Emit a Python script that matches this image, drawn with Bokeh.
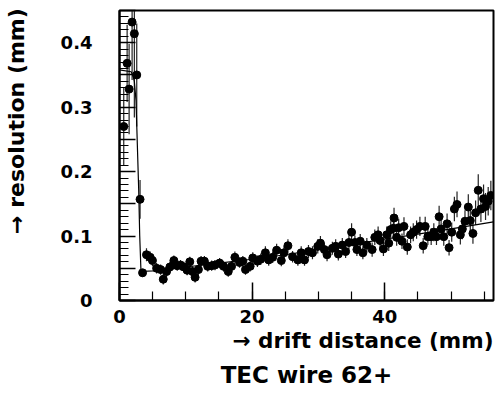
import numpy as np
from bokeh.plotting import figure
from bokeh.models import ColumnDataSource, Title, FixedTicker, SingleIntervalTicker
from bokeh.embed import file_html
from bokeh.resources import INLINE

# ---- data ----
drift = [0.64, 1.15, 1.45, 1.9, 2.24, 2.6, 3.1,
         3.48, 4.07, 4.63, 4.97, 5.6, 6.2, 6.6, 7.1, 7.6, 8.2, 8.7, 9.2, 9.7, 10.2,
         10.6, 11.0, 11.4, 11.9, 12.3, 12.8, 13.3, 13.9, 14.4, 15.1, 15.7, 16.4, 16.9,
         17.4, 18.1, 18.6, 19.0, 19.7, 20.1, 20.8, 21.3, 22.0, 22.5, 23.1, 23.7, 24.4,
         24.8, 25.4, 26.1, 26.9, 27.4, 27.9, 28.5, 29.1, 29.9, 30.3, 30.9, 31.3, 32.1,
         32.6, 33.0, 33.6, 34.1, 34.6, 35.0, 35.5, 35.8, 36.3, 36.7, 37.3, 38.1, 38.5,
         39.0, 39.3, 39.8, 40.3, 40.6, 40.9, 41.3, 41.4, 41.8, 42.1, 42.6, 42.9, 43.4,
         43.9, 44.3, 44.8, 45.3, 45.8, 46.1, 46.5, 47.0, 47.4, 47.8, 48.2, 48.5, 48.9,
         49.4, 49.7, 50.1, 50.5, 50.9, 51.4, 51.7, 52.1, 52.6, 52.9, 53.3, 53.7, 54.1,
         54.5, 54.9, 55.2, 55.6, 56.0]
resolution = [0.270, 0.368, 0.328, 0.432, 0.414, 0.350, 0.157,
              0.043, 0.071, 0.067, 0.062, 0.050, 0.048, 0.033, 0.045, 0.052, 0.062, 0.054,
              0.055, 0.052, 0.047, 0.060, 0.045, 0.036, 0.048, 0.061, 0.061, 0.053, 0.054,
              0.055, 0.058, 0.053, 0.045, 0.053, 0.067, 0.059, 0.061, 0.048, 0.053, 0.066,
              0.061, 0.064, 0.074, 0.063, 0.067, 0.078, 0.062, 0.074, 0.085, 0.068, 0.063,
              0.074, 0.063, 0.076, 0.074, 0.084, 0.089, 0.079, 0.071, 0.081, 0.084, 0.072,
              0.086, 0.076, 0.090, 0.106, 0.090, 0.079, 0.092, 0.074, 0.086, 0.079, 0.098,
              0.102, 0.093, 0.080, 0.102, 0.089, 0.110, 0.112, 0.128, 0.098, 0.113, 0.092,
              0.115, 0.083, 0.102, 0.106, 0.110, 0.115, 0.085, 0.115, 0.099, 0.099, 0.106,
              0.099, 0.130, 0.111, 0.099, 0.119, 0.082, 0.106, 0.142, 0.149, 0.102, 0.111,
              0.123, 0.145, 0.124, 0.104, 0.136, 0.171, 0.142, 0.158, 0.146, 0.154, 0.163]
error = [0.060, 0.060, 0.070, 0.090, 0.130, 0.080, 0.030,
         0.006, 0.010, 0.009, 0.009, 0.008, 0.008, 0.008, 0.008, 0.008, 0.008, 0.008,
         0.008, 0.008, 0.008, 0.008, 0.008, 0.008, 0.008, 0.008, 0.008, 0.008, 0.008,
         0.008, 0.008, 0.008, 0.008, 0.008, 0.009, 0.008, 0.008, 0.008, 0.008, 0.009,
         0.009, 0.009, 0.010, 0.009, 0.009, 0.010, 0.009, 0.010, 0.010, 0.009, 0.009,
         0.010, 0.009, 0.010, 0.010, 0.011, 0.011, 0.010, 0.010, 0.010, 0.011, 0.010,
         0.011, 0.010, 0.011, 0.014, 0.011, 0.010, 0.011, 0.010, 0.011, 0.011, 0.012,
         0.013, 0.012, 0.011, 0.013, 0.012, 0.013, 0.014, 0.016, 0.013, 0.014, 0.012,
         0.014, 0.012, 0.013, 0.014, 0.014, 0.015, 0.012, 0.015, 0.013, 0.013, 0.014,
         0.013, 0.017, 0.015, 0.014, 0.016, 0.012, 0.015, 0.019, 0.020, 0.015, 0.016,
         0.017, 0.020, 0.018, 0.016, 0.019, 0.025, 0.020, 0.022, 0.021, 0.022, 0.023]

fit_x = [0.0, 1.75, 2.0, 2.24, 2.49, 2.9, 3.05, 3.24, 5.0, 10.0, 15.0, 20.0,
         25.0, 30.0, 35.0, 40.0, 45.0, 50.0, 56.4]
fit_y = [0.358, 0.355, 0.350, 0.340, 0.310, 0.170, 0.100, 0.045, 0.046, 0.052,
         0.058, 0.064, 0.071, 0.079, 0.087, 0.095, 0.103, 0.111, 0.122]

x_label = "\u2192 drift distance (mm)"
y_label = "\u2192 resolution (mm)"
title_text = "TEC wire 62+"

y_major = [0.0, 0.05, 0.1, 0.15, 0.2, 0.25, 0.3, 0.35, 0.4, 0.45]
y_labels = ["0", "", "0.1", "", "0.2", "", "0.3", "", "0.4", ""]
y_minor = [round(0.01 * i, 2) for i in range(46)]

FONT = "DejaVu Sans"

# ---- figure ----
p = figure(width=495, height=394, x_range=(0, 56.4), y_range=(0, 0.45),
           output_backend="svg", toolbar_location=None,
           min_border_left=115, min_border_right=2, min_border_top=10,
           min_border_bottom=93, background_fill_color="white",
           border_fill_color="white")
p.xgrid.visible = False
p.ygrid.visible = False
p.outline_line_color = "black"
p.outline_line_width = 2
p.outline_line_alpha = 1.0

y = np.array(resolution)
e = np.array(error)
src = ColumnDataSource(dict(x=drift, y=resolution, lo=(y - e).tolist(), hi=(y + e).tolist()))

p.segment(x0="x", y0="lo", x1="x", y1="hi", source=src, line_color="#222222", line_width=1.2)
p.line(fit_x, fit_y, line_color="black", line_width=1.2)
p.scatter(x="x", y="y", source=src, size=8, marker="circle", fill_color="black", line_color="black")

# axes
xa = p.xaxis[0]
xa.ticker = SingleIntervalTicker(interval=20, num_minor_ticks=4)
ya = p.yaxis[0]
ya.ticker = FixedTicker(ticks=y_major, minor_ticks=y_minor)
ya.major_label_overrides = {t: lab for t, lab in zip(y_major, y_labels)}

for ax in (xa, ya):
    ax.axis_line_width = 2
    ax.axis_line_color = "black"
    ax.major_tick_out = 0
    ax.minor_tick_out = 0
    ax.major_tick_line_color = "black"
    ax.minor_tick_line_color = "black"
    ax.major_label_text_font = FONT
    ax.major_label_text_font_style = "bold"
    ax.major_label_text_font_size = "18px"
    ax.major_label_text_color = "black"

xa.major_tick_in = 18
xa.minor_tick_in = 9
xa.major_tick_line_width = 1.5
xa.minor_tick_line_width = 1.2
xa.major_label_standoff = 9

ya.major_tick_in = 16
ya.minor_tick_in = 9
ya.major_tick_line_width = 1.5
ya.minor_tick_line_width = 1.2
ya.major_label_standoff = 27

# y-axis title, shifted toward the top end with leading non-breaking spaces
ya.axis_label = "\u00a0" * 9 + y_label
ya.axis_label_standoff = 29
ya.axis_label_text_font = FONT
ya.axis_label_text_font_style = "bold"
ya.axis_label_text_font_size = "22px"
ya.axis_label_text_color = "black"

# titles below
p.add_layout(Title(text=x_label, align="right", text_font=FONT, text_font_style="bold",
                   text_font_size="21.5px", text_color="black", standoff=1), "below")
p.add_layout(Title(text=title_text, align="center", text_font=FONT, text_font_style="bold",
                   text_font_size="23px", text_color="black", standoff=13), "below")

open("out.html", "w").write(file_html(p, INLINE))
